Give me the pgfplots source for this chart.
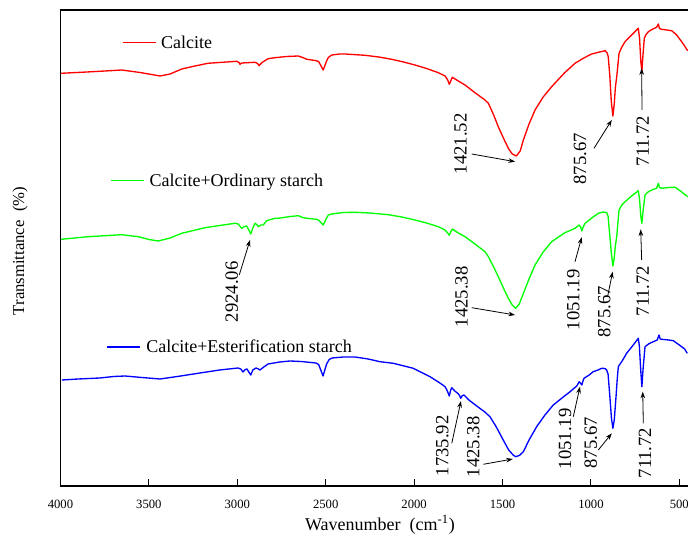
\documentclass[border=0pt]{standalone}
\usepackage{fontspec}
\setmainfont{Liberation Serif}
\usepackage{pgfplots}
\pgfplotsset{compat=1.18}
\usetikzlibrary{arrows.meta}

\pgfplotstableread{
w y
3997 412.7
3850 414
3748 415
3654 416
3550 413.5
3437 410
3380 412
3314 417
3240 420
3166 422.7
3060 424
3003 424.7
2990 423.5
2985 421.7
2975 423
2900 423.7
2885 422.5
2877 420.3
2860 423.5
2826 427.3
2787 428.3
2720 429.5
2655 430
2630 428.5
2607 426.7
2560 425.5
2540 424.5
2514 416
2495 425
2485 428.5
2466 431
2420 432
2391 432
2278 430.7
2200 429
2127 426.7
2060 424
1995 421
1930 417.5
1863 413.3
1825 410
1810 406
1801 401.7
1793 405
1784 408.7
1750 405
1712 401
1656 393.3
1599 386
1580 382.7
1550 371
1524 359.3
1495 348
1467 337.7
1445 332
1421.52 330
1400 335
1382 346
1350 362
1316 376
1270 389
1222 399.3
1150 413
1090 422.7
1040 428
996 432
950 434
920 435.3
908 433
902 429.3
893 410
885 385
875.67 370
868 382
862 398
854 409.3
848 420
841 432.7
825 439
807 444.3
770 451
732 457.7
725 448
718 425
711.72 414.3
706 430
698 447.7
690 451
675 454.3
650 457
628 458.7
619 462
612 457.5
600 456.7
570 456
543 455.3
515 451
487 444.3
470 440
453 435.3
}\calcite

\pgfplotstableread{
w y
3997 246.7
3843 249.3
3654 251.3
3560 249.3
3500 246.5
3447 245
3380 248
3314 252.7
3183 258.3
3080 261
3013 262.7
2995 262
2975 257.7
2960 259.5
2947 260
2935 256
2924.06 252
2912 258
2900 262.7
2890 261.5
2881 259.3
2868 261
2853 261
2834 265.3
2787 267.7
2768 267.7
2700 269.5
2655 270.3
2630 268.5
2607 267.7
2551 266.7
2538 265.5
2514 261
2495 268
2485 271
2466 272
2400 273.5
2334 273.7
2250 273
2146 271.3
2070 269
1995 266
1930 263
1863 259.3
1825 256
1810 253
1801 250.7
1793 254
1784 257
1750 253
1712 249.3
1656 242
1599 234.3
1580 229.3
1550 219
1524 209.3
1495 198
1467 187.7
1445 181
1425.38 177.7
1405 182
1382 192.7
1350 207
1316 221
1270 234
1222 244.3
1150 253
1090 257.7
1067 261
1058 259
1051.19 255
1044 259
1033 262.7
995 268
958 272.7
930 274
911 273.3
903 270
893 250
884 232
875.67 220
868 228
862 240
854 249.3
848 262
841 276
825 281
807 284.3
770 290
732 295.3
725 287
718 270
711.72 262.7
705 275
694 291
675 294.3
650 296.5
628 297.7
619 302.7
612 298.5
600 297.7
560 298.5
524 298.7
490 294.5
453 289.3
}\ordinary

\pgfplotstableread{
w y
3992 106
3900 107
3777 108
3700 109.5
3635 110
3540 108.5
3437 107
3320 110
3211 113
3100 116
2996 118
2980 117
2968 114
2955 116.5
2945 117
2935 114
2924.06 111
2912 116
2894 118
2880 117
2872 116
2850 119
2826 122
2760 124
2702 125
2640 124.5
2611 124
2555 123
2540 121.5
2515 110
2495 122
2480 126.5
2464 128
2400 129
2334 129
2260 127
2193 124.3
2118 122.7
2005 117.7
1910 109.3
1850 102.5
1825 99.3
1812 95
1801 90
1793 96
1787 98.3
1770 95
1752 92.5
1743 90.5
1735.92 87.7
1727 90.5
1718 91
1690 86
1646 80
1600 74
1571 69.3
1535 59
1496 46
1465 36
1440 31
1425.38 29.3
1405 30.5
1382 34.3
1350 46
1307 59.3
1260 71
1213 81
1160 88.5
1118 94.3
1080 100
1066 104.3
1058 102.5
1051.19 101
1045 105
1039 107.7
1010 111
987 114.3
960 116
939 117.7
920 117.5
911 116
903 112
893 90
884 68
875.67 57.7
868 66
862 80
858 89.3
852 105
845 119.3
820 126
798 132.7
765 140
732 147.7
726 140
718 115
711.72 99.3
705 117
694 139.3
670 142.5
647 144.3
625 146
615 151
608 147
600 146.7
560 146
534 145.3
500 141
470 137
455 132.7
}\ester

\begin{document}
\begin{tikzpicture}
\begin{axis}[
  scale only axis, width=473pt, height=357pt,
  x dir=reverse, xmin=433, xmax=4000, ymin=0, ymax=476,
  axis line style={line width=0.8pt, black},
  xtick={500,1000,...,4000}, ytick=\empty, xtick pos=left,
  tick align=inside, major tick length=5pt,
  tick style={line width=0.7pt, black},
  clip=false,
  tick label style={font=\fontsize{9.5}{10}\selectfont},
  /pgf/number format/assume math mode=true,
  /pgf/number format/set thousands separator={},
  xticklabel style={anchor=center, yshift=-13.5pt},
]
\addplot[red, line width=1pt, line join=round] table[x=w,y=y] {\calcite};
\addplot[green, line width=1pt, line join=round] table[x=w,y=y] {\ordinary};
\addplot[blue, line width=1pt, line join=round] table[x=w,y=y] {\ester};

\coordinate (bl) at (axis cs:4000,0);
\coordinate (tr) at (axis cs:433,476);

% legends
\draw[red, line width=1pt] (axis cs:3648,443.7) -- (axis cs:3460,443.7);
\node[anchor=base west, inner sep=0pt, font=\fontsize{13.5}{15}\selectfont] at (axis cs:3432,437.7) {Calcite};
\draw[green, line width=1pt] (axis cs:3714,305.3) -- (axis cs:3526,305.3);
\node[anchor=base west, inner sep=0pt, font=\fontsize{13.5}{15}\selectfont] at (axis cs:3498,299.3) {Calcite+Ordinary starch};
\draw[blue, line width=1pt] (axis cs:3737,139) -- (axis cs:3550,139);
\node[anchor=base west, inner sep=0pt, font=\fontsize{13.5}{15}\selectfont] at (axis cs:3516,133) {Calcite+Esterification starch};

% annotations
\tikzset{ann/.style={rotate=90, inner sep=0pt, font=\fontsize{14}{15}\selectfont},
         arr/.style={-{Stealth[length=5pt,width=3.5pt]}, line width=0.6pt}}
% red
\node[ann] at (axis cs:1736.5,342) {1421.52};
\draw[arr] (axis cs:1674,332) -- (axis cs:1429,324.3);
\node[ann] at (axis cs:1062,327) {875.67};
\draw[arr] (axis cs:982.5,337.7) -- (axis cs:882,366);
\node[ann] at (axis cs:707,345) {711.72};
\draw[arr] (axis cs:711,376) -- (axis cs:713,417.7);
% green
\node[ann] at (axis cs:3031.7,194.3) {2924.06};
\draw[arr] (axis cs:2989,211) -- (axis cs:2928,246);
\node[ann] at (axis cs:1731,189.3) {1425.38};
\draw[arr] (axis cs:1674,178.3) -- (axis cs:1429,171);
\node[ann] at (axis cs:1099.6,186) {1051.19};
\draw[arr] (axis cs:1090,224.3) -- (axis cs:1052,248.7);
\node[ann] at (axis cs:925,174) {875.67};
\draw[arr] (axis cs:905,190) -- (axis cs:877,214.3);
\node[ann] at (axis cs:707,195) {711.72};
\draw[arr] (axis cs:713,226) -- (axis cs:718.5,256.7);
% blue
\node[ann] at (axis cs:1840.5,40) {1735.92};
\draw[arr] (axis cs:1787,42.7) -- (axis cs:1735,85);
\node[ann] at (axis cs:1665,39.3) {1425.38};
\draw[arr] (axis cs:1608.6,21.7) -- (axis cs:1442,27);
\node[ann] at (axis cs:1146.5,47) {1051.19};
\draw[arr] (axis cs:1099.6,69.3) -- (axis cs:1062,99.3);
\node[ann] at (axis cs:1001,43) {875.67};
\draw[arr] (axis cs:958,36) -- (axis cs:882,52.7);
\node[ann] at (axis cs:694,33) {711.72};
\draw[arr] (axis cs:703.7,62.7) -- (axis cs:707,94.3);

% axis labels
\node[font=\fontsize{13.5}{15}\selectfont] at (axis cs:2193,-39) {Wavenumber~ (cm\textsuperscript{-1})};
\node[rotate=90, font=\fontsize{12.5}{14}\selectfont] at (axis cs:4229,235) {Transmittance~ (\%)};
\end{axis}
\pgfresetboundingbox
\path[use as bounding box] ([shift={(-45.375pt,-41.25pt)}]bl) rectangle ([shift={(-2.375pt,7.5pt)}]tr);
\end{tikzpicture}
\end{document}
